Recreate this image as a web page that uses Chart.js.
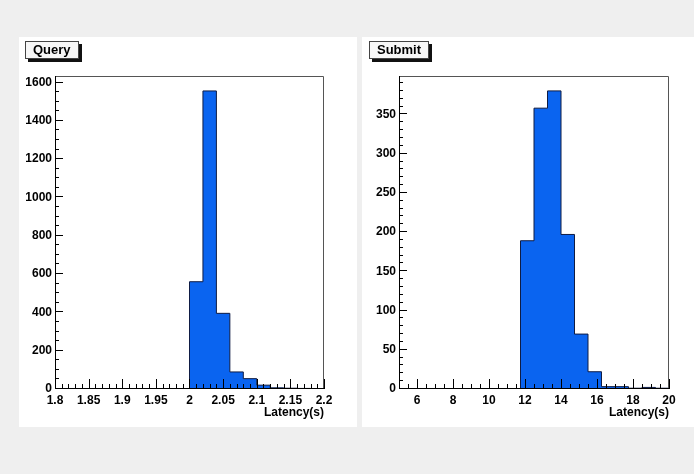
<!DOCTYPE html>
<html>
<head>
<meta charset="utf-8">
<title>Latency histograms</title>
<script src="https://cdn.jsdelivr.net/npm/chart.js@4.4.1/dist/chart.umd.min.js"></script>
<style>
  body { margin: 0; width: 694px; height: 474px; overflow: hidden; position: relative;
         background: #efefef; font-family: "Liberation Sans", Arial, sans-serif; }
  .pad { position: absolute; background: #fff; }
  .pad canvas { position: absolute; left: 0; top: 0; }
  .title { position: absolute; top: 4px; height: 16px; line-height: 16px; padding: 0 7px;
           background: #f7f7f7; border: 1px solid #444; box-shadow: 3px 3px 0 #111;
           font-size: 13px; font-weight: bold; color: #000; white-space: nowrap; }
</style>
</head>
<body>
<div class="pad" id="queryPad" style="left:19px; top:37px; width:338px; height:390px;">
  <canvas id="queryChart"></canvas>
  <div class="title" style="left:6px;">Query</div>
</div>
<div class="pad" id="submitPad" style="left:362px; top:37px; width:332px; height:390px;">
  <canvas id="submitChart"></canvas>
  <div class="title" style="left:7px;">Submit</div>
</div>
<script>
// Query latency histogram (20 bins over the x range)
const queryXRange = [1.8, 2.2];
const queryCounts = [0, 0, 0, 0, 0, 0, 0, 0, 0, 0, 560, 1556, 395, 89, 54, 20, 6, 4, 3, 0];
const queryXTicks = [1.8, 1.85, 1.9, 1.95, 2, 2.05, 2.1, 2.15, 2.2];
const queryYTicks = [0, 200, 400, 600, 800, 1000, 1200, 1400, 1600];
const queryYMax = 1634;

// Submit latency histogram
const submitXRange = [5, 20];
const submitCounts = [0, 0, 0, 0, 0, 0, 0, 0, 0, 189, 358, 380, 197, 70, 22, 3, 3, 1, 2, 1];
const submitXTicks = [6, 8, 10, 12, 14, 16, 18, 20];
const submitYTicks = [0, 50, 100, 150, 200, 250, 300, 350];
const submitYMax = 399;

const axisTitle = 'Latency(s)';
const fillColor = '#0a64f0';
const lineColor = '#0f1c44';

Chart.defaults.font.family = "'Liberation Sans', Arial, sans-serif";
Chart.defaults.color = '#000';

// Histogram outline points: one per bin edge, closed at the last edge
function histPoints(range, counts) {
    const width = (range[1] - range[0]) / counts.length;
    const pts = counts.map((c, i) => ({ x: range[0] + i * width, y: c }));
    pts.push({ x: range[1], y: 0 });
    return pts;
}

// ROOT-style frame with ticks pointing into the plot
const rootAxes = {
    id: 'rootAxes',
    afterDatasetsDraw(chart, args, opts) {
        const { ctx, chartArea: a, scales: { x, y } } = chart;
        ctx.save();
        ctx.lineWidth = 1;

        ctx.strokeStyle = '#555';
        ctx.beginPath();
        ctx.moveTo(a.left, a.top + 0.5);
        ctx.lineTo(a.right - 0.5, a.top + 0.5);
        ctx.lineTo(a.right - 0.5, a.bottom);
        ctx.stroke();

        ctx.strokeStyle = '#000';
        ctx.beginPath();
        ctx.moveTo(a.left + 0.5, a.top);
        ctx.lineTo(a.left + 0.5, a.bottom - 0.5);
        ctx.lineTo(a.right, a.bottom - 0.5);

        const isMajor = (v, step) => Math.abs(v / step - Math.round(v / step)) < 1e-6;

        const nx = Math.round((x.max - x.min) / opts.xMinor);
        for (let k = 0; k <= nx; k++) {
            const v = x.min + k * opts.xMinor;
            const px = Math.round(x.getPixelForValue(v)) + 0.5;
            ctx.moveTo(px, a.bottom);
            ctx.lineTo(px, a.bottom - (isMajor(v, opts.xMajor) ? 10 : 5));
        }

        const ny = Math.floor((y.max - y.min) / opts.yMinor);
        for (let k = 0; k <= ny; k++) {
            const v = y.min + k * opts.yMinor;
            const py = Math.round(y.getPixelForValue(v)) - 0.5;
            ctx.moveTo(a.left, py);
            ctx.lineTo(a.left + (isMajor(v, opts.yMajor) ? 8 : 4), py);
        }
        ctx.stroke();
        ctx.restore();
    }
};

function buildHist(canvasId, cfg) {
    const tickFont = { size: 12, weight: 'bold' };
    return new Chart(document.getElementById(canvasId), {
        type: 'line',
        data: {
            datasets: [{
                data: histPoints(cfg.range, cfg.counts),
                stepped: 'before',
                fill: 'origin',
                backgroundColor: fillColor,
                borderColor: lineColor,
                borderWidth: 1,
                pointRadius: 0,
                tension: 0
            }]
        },
        plugins: [rootAxes],
        options: {
            responsive: true,
            maintainAspectRatio: false,
            animation: false,
            events: [],
            layout: { padding: { top: 39, right: cfg.right, left: 0, bottom: 0 } },
            plugins: {
                legend: { display: false },
                tooltip: { enabled: false },
                rootAxes: cfg.ticks
            },
            scales: {
                x: {
                    type: 'linear',
                    min: cfg.range[0],
                    max: cfg.range[1],
                    grid: { display: false, drawTicks: false },
                    border: { display: false },
                    afterBuildTicks: scale => { scale.ticks = cfg.xTicks.map(v => ({ value: v })); },
                    afterFit: scale => { scale.height = 38; },
                    ticks: {
                        font: tickFont,
                        padding: 4,
                        maxRotation: 0,
                        autoSkip: false,
                        callback: v => String(Number(v.toFixed(3)))
                    },
                    title: {
                        display: true,
                        text: axisTitle,
                        align: 'end',
                        font: tickFont,
                        padding: { top: 0, bottom: 7 }
                    }
                },
                y: {
                    min: 0,
                    max: cfg.yMax,
                    grid: { display: false, drawTicks: false },
                    border: { display: false },
                    afterBuildTicks: scale => { scale.ticks = cfg.yTicks.map(v => ({ value: v })); },
                    afterFit: scale => { scale.width = cfg.left; },
                    ticks: {
                        font: tickFont,
                        padding: 3,
                        autoSkip: false,
                        callback: v => String(v)
                    }
                }
            }
        }
    });
}

buildHist('queryChart', {
    range: queryXRange, counts: queryCounts,
    xTicks: queryXTicks, yTicks: queryYTicks, yMax: queryYMax,
    left: 36, right: 33,
    ticks: { xMajor: 0.05, xMinor: 0.01, yMajor: 200, yMinor: 50 }
});

buildHist('submitChart', {
    range: submitXRange, counts: submitCounts,
    xTicks: submitXTicks, yTicks: submitYTicks, yMax: submitYMax,
    left: 37, right: 25,
    ticks: { xMajor: 2, xMinor: 0.5, yMajor: 50, yMinor: 10 }
});
</script>
</body>
</html>
